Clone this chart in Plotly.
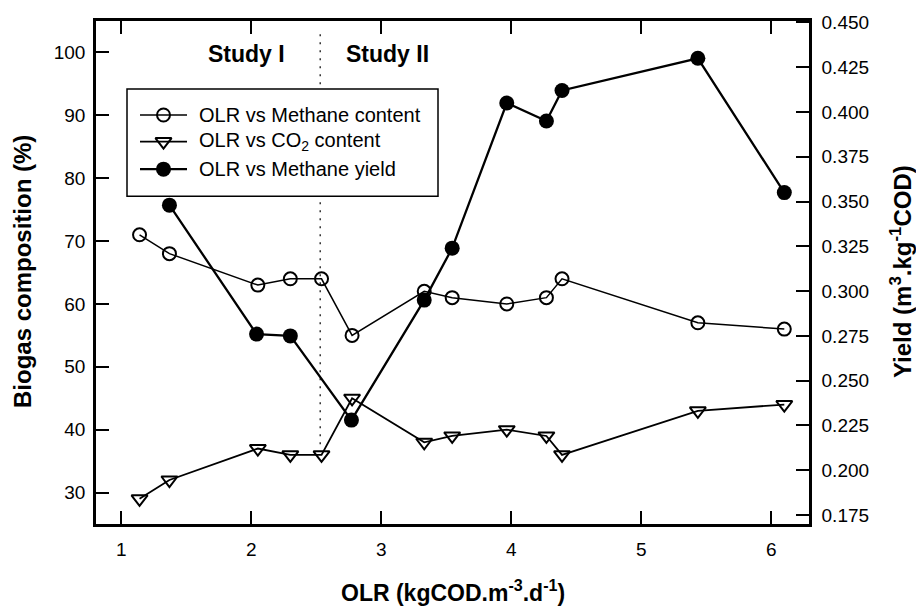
import plotly.graph_objects as go

# ---- Data ----
olr_content = [1.14, 1.37, 2.05, 2.30, 2.54, 2.775, 3.33, 3.545, 3.965, 4.27, 4.39, 5.435, 6.10]
methane_content = [71, 68, 63, 64, 64, 55, 62, 61, 60, 61, 64, 57, 56]
co2_content = [29, 32, 37, 36, 36, 45, 38, 39, 40, 39, 36, 43, 44]

olr_yield = [1.37, 2.04, 2.30, 2.77, 3.33, 3.545, 3.965, 4.27, 4.39, 5.435, 6.10]
methane_yield = [0.348, 0.276, 0.275, 0.228, 0.295, 0.324, 0.405, 0.395, 0.412, 0.430, 0.355]

x_ticks = [1, 2, 3, 4, 5, 6]
left_ticks = [30, 40, 50, 60, 70, 80, 90, 100]
right_ticks = [0.175, 0.200, 0.225, 0.250, 0.275, 0.300, 0.325, 0.350, 0.375, 0.400, 0.425, 0.450]
study_boundary = 2.53

series_names = ["OLR vs Methane content", "OLR vs CO<sub>2</sub> content", "OLR vs Methane yield"]

FONT = "Liberation Sans, Arial, sans-serif"
W, H = 916, 613
ML, MR, MT, MB = 96, 107, 13, 89

styles = [
    dict(line=dict(color="black", width=1.5),
         marker=dict(symbol="circle-open", size=13, color="black", line=dict(width=2, color="black"))),
    dict(line=dict(color="black", width=1.8),
         marker=dict(symbol="triangle-down-open", size=14, color="black", line=dict(width=2, color="black"))),
    dict(line=dict(color="black", width=2.3),
         marker=dict(symbol="circle", size=15, color="black")),
]

fig = go.Figure()

fig.add_trace(go.Scatter(x=olr_content, y=methane_content, mode="lines+markers",
                         name=series_names[0], showlegend=False, **styles[0]))
fig.add_trace(go.Scatter(x=olr_content, y=co2_content, mode="lines+markers",
                         name=series_names[1], showlegend=False, **styles[1]))
fig.add_trace(go.Scatter(x=olr_yield, y=methane_yield, mode="lines+markers", yaxis="y2",
                         name=series_names[2], showlegend=False, **styles[2]))

# dotted study boundary
fig.add_shape(type="line", xref="x", yref="y", x0=study_boundary, x1=study_boundary,
              y0=37.7, y1=103.5, line=dict(color="#333333", width=1.5, dash="2px,6px"), layer="below")

# ---- custom legend (in pixel coordinates on hidden overlay axes) ----
leg = dict(x0=127, x1=438, y0=82, y1=191, rows=[108.5, 135.5, 163.5],
           line_x0=140, line_x1=187, mark_x=163.5, text_x=197)
fig.add_shape(type="rect", xref="x3", yref="y3", x0=leg["x0"], x1=leg["x1"], y0=leg["y0"], y1=leg["y1"],
              line=dict(color="black", width=1.5), fillcolor="white", layer="below")
for name, st, ry in zip(series_names, styles, leg["rows"]):
    fig.add_trace(go.Scatter(x=[leg["line_x0"], leg["line_x1"]], y=[ry, ry], mode="lines",
                             xaxis="x3", yaxis="y3", showlegend=False, hoverinfo="skip",
                             line=st["line"]))
    fig.add_trace(go.Scatter(x=[leg["mark_x"]], y=[ry], mode="markers",
                             xaxis="x3", yaxis="y3", showlegend=False, hoverinfo="skip",
                             marker=st["marker"]))
    fig.add_annotation(x=leg["text_x"], y=ry, xref="x3", yref="y3", text=name, showarrow=False,
                       xanchor="left", yanchor="middle",
                       font=dict(family=FONT, size=20, color="black"))

# study labels
fig.add_annotation(x=1.96, y=99.7, xref="x", yref="y", text="<b>Study I</b>", showarrow=False,
                   font=dict(family=FONT, size=23, color="black"))
fig.add_annotation(x=3.05, y=99.7, xref="x", yref="y", text="<b>Study II</b>", showarrow=False,
                   font=dict(family=FONT, size=23, color="black"))

# axis titles
pw, ph = W - ML - MR, H - MT - MB
fig.add_annotation(x=0.5, y=1 - (592 - MT) / ph, xref="paper", yref="paper",
                   text="<b>OLR (kgCOD.m<sup>-3</sup>.d<sup>-1</sup>)</b>", showarrow=False,
                   xanchor="center", yanchor="middle", font=dict(family=FONT, size=23, color="black"))
fig.add_annotation(x=(22 - ML) / pw, y=1 - (268 - MT) / ph, xref="paper", yref="paper",
                   text="<b>Biogas composition (%)</b>", showarrow=False, textangle=-90,
                   xanchor="center", yanchor="middle", font=dict(family=FONT, size=24, color="black"))
fig.add_annotation(x=(901 - ML) / pw, y=1 - (268 - MT) / ph, xref="paper", yref="paper",
                   text="<b>Yield (m<sup>3</sup>.kg<sup>-1</sup>COD)</b>", showarrow=False, textangle=-90,
                   xanchor="center", yanchor="middle", font=dict(family=FONT, size=24, color="black"))

axis_common = dict(ticks="inside", ticklen=13, tickwidth=2, tickcolor="black", showline=True,
                   linecolor="black", linewidth=2.5, showgrid=False, zeroline=False,
                   tickfont=dict(family=FONT, size=19, color="black"))

fig.update_layout(
    width=W, height=H,
    margin=dict(l=ML, r=MR, t=MT, b=MB),
    paper_bgcolor="white", plot_bgcolor="white",
    font=dict(family=FONT, size=19, color="black"),
    showlegend=False,
    xaxis=dict(range=[0.805, 6.29], tickvals=x_ticks, mirror="ticks", ticklabelstandoff=6, **axis_common),
    yaxis=dict(range=[25, 105], tickvals=left_ticks, ticklabelstandoff=4, **axis_common),
    yaxis2=dict(range=[0.170, 0.4508], tickvals=right_ticks, tickformat=".3f", overlaying="y",
                side="right", ticklabelstandoff=6, **axis_common),
    xaxis3=dict(range=[ML, W - MR], overlaying="x", visible=False, fixedrange=True),
    yaxis3=dict(range=[H - MB, MT], overlaying="y", visible=False, fixedrange=True),
)

fig.write_html("out.html")
